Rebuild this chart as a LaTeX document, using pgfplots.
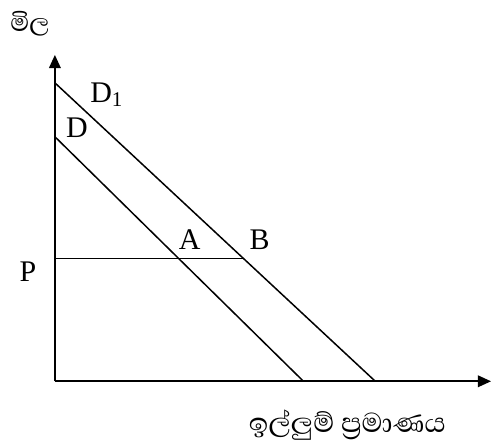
\documentclass[border=0pt]{standalone}
\usepackage{pgfplots}
\pgfplotsset{compat=1.18}
\usepackage{fontspec}
\setmainfont{Liberation Serif}
\newfontfamily\sinhala[Script=Sinhala]{Abhaya Libre}
\usetikzlibrary{arrows.meta}
\begin{document}
\begin{tikzpicture}
\begin{axis}[
  x=0.6pt, y=0.6pt,
  xmin=0, xmax=437, ymin=0, ymax=327,
  axis lines=left,
  axis line style={line width=1.1pt, -{Triangle[length=8pt,width=7pt]}},
  xtick=\empty, ytick=\empty,
  clip=false,
]
\path (axis cs:-55,-55) rectangle (axis cs:437,382);
% D1
\addplot[black, line width=0.9pt, no marks] coordinates {(0,299) (321,0)};
% D
\addplot[black, line width=0.9pt, no marks] coordinates {(0,245) (249,0)};
% price line
\addplot[black, line width=0.9pt, no marks] coordinates {(0,123) (189,123)};
\node[font=\fontsize{18}{20}\selectfont] at (axis cs:52,287) {D\textsubscript{1}};
\node[font=\fontsize{18}{20}\selectfont] at (axis cs:22,254) {D};
\node[font=\fontsize{18}{20}\selectfont] at (axis cs:135,142) {A};
\node[font=\fontsize{18}{20}\selectfont] at (axis cs:205,142) {B};
\node[font=\fontsize{18}{20}\selectfont] at (axis cs:-27,110) {P};
\node[font=\sinhala\fontsize{19}{22}\selectfont] at (axis cs:-25,358) {මිල};
\node[font=\sinhala\fontsize{21}{24}\selectfont] at (axis cs:293,-44) {ඉල්ලුම් ප්‍රමාණය};
\end{axis}
\end{tikzpicture}
\end{document}
